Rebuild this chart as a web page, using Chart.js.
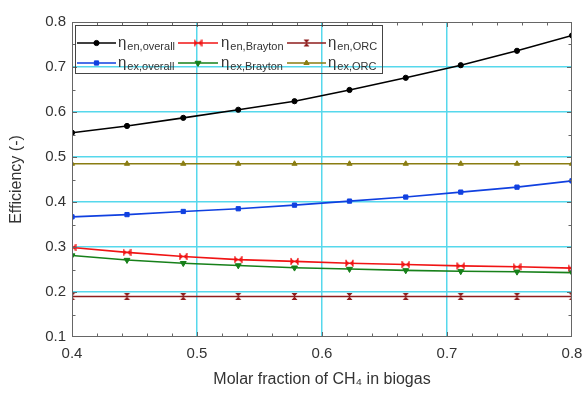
<!DOCTYPE html>
<html>
<head>
<meta charset="utf-8">
<script src="https://cdn.jsdelivr.net/npm/chart.js@4.4.1/dist/chart.umd.min.js"></script>
<style>
html,body{margin:0;padding:0;background:#fff;}
#wrap{width:585px;height:395px;position:relative;}
</style>
</head>
<body>
<div id="wrap"><canvas id="chart" width="585" height="395"></canvas></div>
<script>
/* ---------- data ---------- */
var xFrac=[0.4,0.444,0.489,0.533,0.578,0.622,0.667,0.711,0.756,0.8];
var enOverall=[0.554,0.569,0.587,0.605,0.624,0.649,0.676,0.704,0.736,0.770];
var enBrayton=[0.299,0.288,0.279,0.272,0.268,0.264,0.261,0.258,0.256,0.253];
var enORC=[0.190,0.190,0.190,0.190,0.190,0.190,0.190,0.190,0.190,0.190];
var exOverall=[0.367,0.372,0.379,0.385,0.393,0.402,0.411,0.422,0.433,0.447];
var exBrayton=[0.281,0.271,0.264,0.259,0.254,0.251,0.248,0.246,0.245,0.243];
var exORC=[0.485,0.485,0.485,0.485,0.485,0.485,0.485,0.485,0.485,0.485];
var yTicks=[0.1,0.2,0.3,0.4,0.5,0.6,0.7,0.8];
var xTicks=[0.4,0.5,0.6,0.7,0.8];

var FONT='"Liberation Sans", Arial, sans-serif';
var GRID='#56d8ec';

/* ---------- custom markers ---------- */
function marker(kind,color){
    var c=document.createElement('canvas');c.width=9;c.height=9;
    var g=c.getContext('2d');g.fillStyle=color;g.strokeStyle=color;g.lineWidth=1.2;
    g.beginPath();
    if(kind==='bowH'){ // horizontal bowtie with end bars
        g.moveTo(1,1.5);g.lineTo(4.5,4.5);g.lineTo(1,7.5);g.closePath();
        g.moveTo(8,1.5);g.lineTo(4.5,4.5);g.lineTo(8,7.5);g.closePath();g.fill();
        g.beginPath();g.moveTo(1,1);g.lineTo(1,8);g.moveTo(8,1);g.lineTo(8,8);g.stroke();
    }else{ // vertical hourglass
        g.moveTo(1.5,1);g.lineTo(7.5,1);g.lineTo(4.5,4.5);g.closePath();
        g.moveTo(1.5,8);g.lineTo(7.5,8);g.lineTo(4.5,4.5);g.closePath();g.fill();
    }
    return c;
}

function pts(arr){return arr.map(function(v,i){return {x:xFrac[i],y:v};});}

var series=[
    {sub:'en,overall',data:enOverall,color:'#000000',style:'circle',r:2.6},
    {sub:'en,Brayton',data:enBrayton,color:'#f01414',style:marker('bowH','#f01414'),r:4},
    {sub:'en,ORC',data:enORC,color:'#8e1c1c',style:marker('hour','#8e1c1c'),r:4},
    {sub:'ex,overall',data:exOverall,color:'#1040e0',style:'rect',r:3},
    {sub:'ex,Brayton',data:exBrayton,color:'#17801a',style:'triangle',r:3.4,rot:180},
    {sub:'ex,ORC',data:exORC,color:'#8a7d12',style:'triangle',r:3,rot:0}
];

/* ---------- frame, minor ticks, legend ---------- */
var framePlugin={
    id:'frame',
    afterDraw:function(chart){
        var ctx=chart.ctx,a=chart.chartArea,xs=chart.scales.x,ys=chart.scales.y;
        ctx.save();
        ctx.strokeStyle='#666';ctx.lineWidth=1;
        ctx.strokeRect(a.left+0.5,a.top+0.5,a.right-a.left-1,a.bottom-a.top-1);
        ctx.beginPath();
        var v,p;
        for(v=0.42;v<0.8;v+=0.02){
            p=Math.round(xs.getPixelForValue(v))+0.5;
            var L=(Math.abs(v*10-Math.round(v*10))<0.01)?5:3.5;
            ctx.moveTo(p,a.bottom);ctx.lineTo(p,a.bottom-L);
            ctx.moveTo(p,a.top);ctx.lineTo(p,a.top+L);
        }
        for(v=0.15;v<0.8;v+=0.05){
            p=Math.round(ys.getPixelForValue(v))+0.5;
            var M=(Math.abs(v*10-Math.round(v*10))<0.01)?5:3.5;
            ctx.moveTo(a.left,p);ctx.lineTo(a.left+M,p);
            ctx.moveTo(a.right,p);ctx.lineTo(a.right-M,p);
        }
        ctx.stroke();

        // legend
        ctx.strokeStyle='#444';ctx.lineWidth=1;
        ctx.strokeRect(75.5,25.5,307,48);
        var cols=[[77,116,118],[178,218,221],[287,326,328]];
        var rows=[43,63];
        series.forEach(function(s,i){
            var c=cols[i%3],y=rows[Math.floor(i/3)];
            ctx.strokeStyle=s.color;ctx.fillStyle=s.color;ctx.lineWidth=1.5;
            ctx.beginPath();ctx.moveTo(c[0],y);ctx.lineTo(c[1],y);ctx.stroke();
            ctx.lineWidth=1;
            Chart.helpers.drawPoint(ctx,{pointStyle:s.style,radius:s.r,rotation:s.rot||0,borderWidth:1},(c[0]+c[1])/2,y);
            ctx.fillStyle='#333';ctx.textBaseline='alphabetic';ctx.textAlign='left';
            ctx.font='15px '+FONT;
            ctx.fillText('\u03B7',c[2],y+4);
            var w=ctx.measureText('\u03B7').width;
            ctx.font='11px '+FONT;
            ctx.fillText(s.sub,c[2]+w+1,y+7);
        });
        ctx.restore();
    }
};

var datasets=series.map(function(s){
    return {
        label:s.sub,data:pts(s.data),borderColor:s.color,backgroundColor:s.color,
        borderWidth:1.6,pointStyle:s.style,pointRadius:s.r,pointRotation:s.rot||0,
        pointBorderWidth:1,pointBorderColor:s.color,pointBackgroundColor:s.color,
        tension:0,fill:false
    };
});

function gridColor(c){
    var v=c.tick&&c.tick.value;
    if(c.scale.axis==='x'&&(Math.abs(v-0.4)<1e-6||Math.abs(v-0.8)<1e-6))return 'rgba(0,0,0,0)';
    if(c.scale.axis==='y'&&(Math.abs(v-0.1)<1e-6||Math.abs(v-0.8)<1e-6))return 'rgba(0,0,0,0)';
    return GRID;
}

new Chart(document.getElementById('chart'),{
    type:'line',
    data:{datasets:datasets},
    options:{
        responsive:false,animation:false,
        layout:{padding:{top:22,right:13,left:0,bottom:0}},
        plugins:{legend:{display:false},tooltip:{enabled:false}},
        scales:{
            x:{
                type:'linear',min:0.4,max:0.8,
                afterBuildTicks:function(s){s.ticks=xTicks.map(function(v){return {value:v};});},
                afterFit:function(s){s.height=58;s.paddingLeft=0;s.paddingRight=0;},
                grid:{color:gridColor,lineWidth:1.5,drawTicks:false},
                border:{display:false},
                ticks:{padding:8,color:'#333',font:{family:FONT,size:15},callback:function(v){return v.toFixed(1);},maxRotation:0},
                title:{display:true,text:'Molar fraction of CH\u2084 in biogas',color:'#333',font:{family:FONT,size:16},padding:{top:6,bottom:6}}
            },
            y:{
                type:'linear',min:0.1,max:0.8,
                afterBuildTicks:function(s){s.ticks=yTicks.map(function(v){return {value:v};});},
                afterFit:function(s){s.width=72;s.paddingTop=0;s.paddingBottom=0;},
                grid:{color:gridColor,lineWidth:1.5,drawTicks:false},
                border:{display:false},
                ticks:{padding:6,color:'#333',font:{family:FONT,size:15},callback:function(v){return v.toFixed(1);}},
                title:{display:true,text:'Efficiency (-)',color:'#333',font:{family:FONT,size:16},padding:{top:7,bottom:0}}
            }
        }
    },
    plugins:[framePlugin]
});
</script>
</body>
</html>
